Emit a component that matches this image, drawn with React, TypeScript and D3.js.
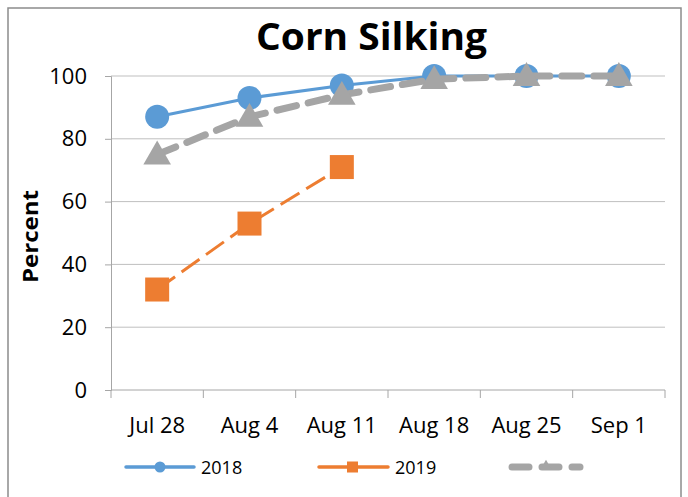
import React, { useEffect, useRef } from 'react';
import * as d3 from 'd3';

const categories = ['Jul 28', 'Aug 4', 'Aug 11', 'Aug 18', 'Aug 25', 'Sep 1'];
const values2018 = [87, 93, 97, 100, 100, 100];
const values2019 = [32, 53, 71];
const valuesAvg = [75, 87, 94, 99, 100, 100];
const yTicks = [0, 20, 40, 60, 80, 100];

const FONT = '"Open Sans", Lato, sans-serif';

const App = () => {
  const ref = useRef<SVGSVGElement>(null);

  useEffect(() => {
    const svg = d3.select(ref.current);
    svg.selectAll('*').remove();

    const left = 111;
    const right = 665;
    const top = 76;
    const bottom = 390;

    const x = d3.scaleBand().domain(categories).range([left, right]);
    const y = d3.scaleLinear().domain([0, 100]).range([bottom, top]);
    const cx = (c: string) => (x(c) as number) + x.bandwidth() / 2;

    // outer frame
    svg.append('rect')
      .attr('x', 8).attr('y', 8).attr('width', 673).attr('height', 500)
      .attr('fill', '#fff').attr('stroke', '#8c8c8c').attr('stroke-width', 1.5);

    svg.append('text')
      .attr('x', 256).attr('y', 50)
      .attr('textLength', 231).attr('lengthAdjust', 'spacingAndGlyphs')
      .style('font-family', FONT).style('font-weight', 'bold').style('font-size', '37px')
      .text('Corn Silking');

    // gridlines
    svg.selectAll('.grid').data(yTicks.filter((t) => t > 0)).enter()
      .append('line')
      .attr('x1', left).attr('x2', right)
      .attr('y1', (d) => y(d)).attr('y2', (d) => y(d))
      .attr('stroke', '#bfbfbf').attr('stroke-width', 1);

    // y axis
    const yAxis = svg.append('g').attr('transform', `translate(${left},0)`)
      .call(d3.axisLeft(y).tickValues(yTicks).tickSize(6).tickPadding(18));
    yAxis.select('.domain').attr('stroke', '#a6a6a6');
    yAxis.selectAll('line').attr('stroke', '#a6a6a6');
    yAxis.selectAll('text').style('font-family', FONT).style('font-size', '22px').attr('fill', '#000');

    // x axis
    const xAxis = svg.append('g').attr('transform', `translate(0,${bottom})`);
    xAxis.append('line').attr('x1', left).attr('x2', right).attr('stroke', '#a6a6a6');
    const bounds = categories.map((c) => x(c) as number).concat([right]);
    xAxis.selectAll('.tk').data(bounds).enter().append('line')
      .attr('x1', (d) => d).attr('x2', (d) => d).attr('y1', 0).attr('y2', 8)
      .attr('stroke', '#a6a6a6');
    xAxis.selectAll('.lbl').data(categories).enter().append('text')
      .attr('x', (d) => cx(d)).attr('y', 43)
      .attr('text-anchor', 'middle')
      .style('font-family', FONT).style('font-size', '22px')
      .text((d) => d);

    svg.append('text')
      .attr('transform', `translate(38,${(top + bottom) / 2 + 4}) rotate(-90)`)
      .attr('x', -46)
      .attr('textLength', 93).attr('lengthAdjust', 'spacingAndGlyphs')
      .style('font-family', FONT).style('font-weight', 'bold').style('font-size', '21px')
      .text('Percent');

    const line = d3.line<number>().x((_, i) => cx(categories[i])).y((d) => y(d));

    // 2018
    svg.append('path').attr('d', line(values2018)).attr('fill', 'none')
      .attr('stroke', '#5b9bd5').attr('stroke-width', 3);
    svg.selectAll('.c18').data(values2018).enter().append('circle')
      .attr('cx', (_, i) => cx(categories[i])).attr('cy', (d) => y(d)).attr('r', 12)
      .attr('fill', '#5b9bd5');

    // 2019
    svg.append('path').attr('d', line(values2019)).attr('fill', 'none')
      .attr('stroke', '#ed7d31').attr('stroke-width', 3).attr('stroke-dasharray', '22 8');
    svg.selectAll('.s19').data(values2019).enter().append('rect')
      .attr('x', (_, i) => cx(categories[i]) - 12).attr('y', (d) => y(d) - 12)
      .attr('width', 24).attr('height', 24).attr('fill', '#ed7d31');

    // average (gray)
    svg.append('path').attr('d', line(valuesAvg)).attr('fill', 'none')
      .attr('stroke', '#a5a5a5').attr('stroke-width', 7).attr('stroke-dasharray', '20 12')
      .attr('stroke-linecap', 'round');
    const tri = d3.symbol().type(d3.symbolTriangle).size(330);
    svg.selectAll('.tri').data(valuesAvg).enter().append('path')
      .attr('d', tri())
      .attr('transform', (d, i) => `translate(${cx(categories[i])},${y(d) + 2})`)
      .attr('fill', '#a5a5a5');

    // legend
    const ly = 467;
    const lg = svg.append('g');
    lg.append('line').attr('x1', 126).attr('x2', 194).attr('y1', ly).attr('y2', ly)
      .attr('stroke', '#5b9bd5').attr('stroke-width', 3.5).attr('stroke-linecap', 'round');
    lg.append('circle').attr('cx', 160).attr('cy', ly).attr('r', 5.5).attr('fill', '#5b9bd5');
    lg.append('text').attr('x', 201).attr('y', ly + 6.5)
      .style('font-family', FONT).style('font-size', '18px').text('2018');

    lg.append('line').attr('x1', 319).attr('x2', 388).attr('y1', ly).attr('y2', ly)
      .attr('stroke', '#ed7d31').attr('stroke-width', 3.5).attr('stroke-dasharray', '34 5')
      .attr('stroke-linecap', 'round');
    lg.append('rect').attr('x', 347).attr('y', ly - 5.5).attr('width', 11).attr('height', 11)
      .attr('fill', '#ed7d31');
    lg.append('text').attr('x', 395).attr('y', ly + 6.5)
      .style('font-family', FONT).style('font-size', '18px').text('2019');

    lg.append('line').attr('x1', 512).attr('x2', 580).attr('y1', ly).attr('y2', ly)
      .attr('stroke', '#a5a5a5').attr('stroke-width', 7).attr('stroke-dasharray', '17 13')
      .attr('stroke-linecap', 'round');
    lg.append('path').attr('d', d3.symbol().type(d3.symbolTriangle).size(50)())
      .attr('transform', `translate(546,${ly - 1})`).attr('fill', '#a5a5a5');
  }, []);

  return (
    <svg ref={ref} width={688} height={497} style={{ position: 'absolute', left: 0, top: 0, background: '#fff' }} />
  );
};

export default App;
